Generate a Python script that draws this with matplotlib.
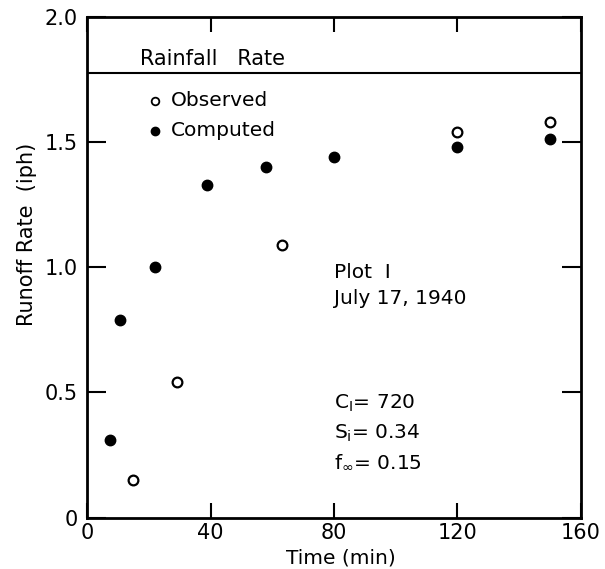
import matplotlib
matplotlib.use("Agg")
import matplotlib.pyplot as plt

# data
obs_time = [15, 29, 63, 120, 150]
obs_rate = [0.15, 0.54, 1.09, 1.54, 1.58]
comp_time = [7.5, 10.5, 22, 39, 58, 80, 120, 150]
comp_rate = [0.31, 0.79, 1.0, 1.33, 1.40, 1.44, 1.48, 1.51]
rainfall_rate = 1.776

xticks = [0, 40, 80, 120, 160]
xticklabels = ["0", "40", "80", "120", "160"]
yticks = [0, 0.5, 1.0, 1.5, 2.0]
yticklabels = ["0", "0.5", "1.0", "1.5", "2.0"]

plt.rcParams["font.family"] = "DejaVu Sans"
plt.rcParams["mathtext.fontset"] = "dejavusans"

fig = plt.figure(figsize=(6.05, 5.69), dpi=100)
ax = fig.add_axes([0.144, 0.0905, 0.816, 0.880])

ax.plot(comp_time, comp_rate, "o", color="black", markersize=7.5, linestyle="none")
ax.plot(obs_time, obs_rate, "o", markerfacecolor="white", markeredgecolor="black",
        markeredgewidth=1.6, markersize=7, linestyle="none")

# rainfall rate line
ax.axhline(rainfall_rate, color="black", linewidth=1.5)
ax.text(17, 1.83, "Rainfall   Rate", fontsize=15, va="center", ha="left")

# hand-drawn style legend
ax.plot([22], [1.665], "o", markerfacecolor="white", markeredgecolor="black",
        markeredgewidth=1.3, markersize=5.5)
ax.plot([22], [1.545], "o", color="black", markersize=6)
ax.text(27.3, 1.665, "Observed", fontsize=14.5, va="center", ha="left")
ax.text(27.3, 1.545, "Computed", fontsize=14.5, va="center", ha="left")

# annotations
ax.text(80, 0.98, "Plot  I", fontsize=14.5, va="center", ha="left")
ax.text(80, 0.874, "July 17, 1940", fontsize=14.5, va="center", ha="left")
ax.text(80, 0.455, r"C$_{\mathsf{I}}$= 720", fontsize=14.5, va="center", ha="left")
ax.text(80, 0.335, r"S$_{\mathsf{i}}$= 0.34", fontsize=14.5, va="center", ha="left")
ax.text(80, 0.222, r"f$_{\infty}$= 0.15", fontsize=14.5, va="center", ha="left")

ax.set_xlim(0, 160)
ax.set_ylim(0, 2.0)
ax.set_xticks(xticks)
ax.set_xticklabels(xticklabels)
ax.set_yticks(yticks)
ax.set_yticklabels(yticklabels)
ax.tick_params(direction="in", width=1.5, top=True, right=True, labelsize=15)
ax.tick_params(axis="x", length=11, pad=4)
ax.tick_params(axis="y", length=14, pad=7)

for spine in ax.spines.values():
    spine.set_linewidth(2)

ax.set_xlabel("Time (min)", fontsize=14.5)
ax.set_ylabel("Runoff Rate  (iph)", fontsize=15)
ax.xaxis.set_label_coords(0.514, -0.062)
ax.yaxis.set_label_coords(-0.102, 0.566)

fig.savefig("out.png", dpi=100)
